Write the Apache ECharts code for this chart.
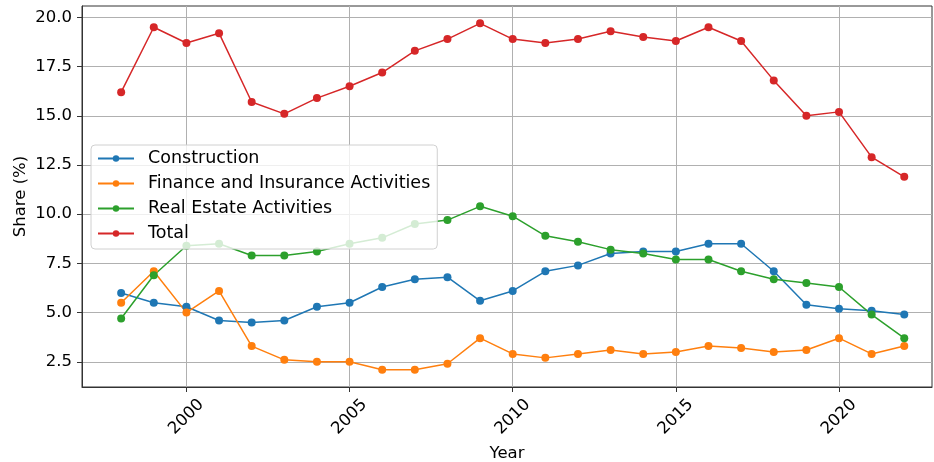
<!DOCTYPE html>
<html>
<head>
<meta charset="utf-8">
<script src="https://cdn.jsdelivr.net/npm/echarts@6/dist/echarts.min.js"></script>
<style>
html, body { margin: 0; padding: 0; background: #fff; }
#share-chart { width: 934px; height: 462px; }
</style>
</head>
<body>
<div id="share-chart"></div>
<script>
const years = [1998, 1999, 2000, 2001, 2002, 2003, 2004, 2005, 2006, 2007, 2008, 2009, 2010,
    2011, 2012, 2013, 2014, 2015, 2016, 2017, 2018, 2019, 2020, 2021, 2022]
const construction = [6.0, 5.5, 5.3, 4.6, 4.5, 4.6, 5.3, 5.5, 6.3, 6.7, 6.8, 5.6, 6.1,
    7.1, 7.4, 8.0, 8.1, 8.1, 8.5, 8.5, 7.1, 5.4, 5.2, 5.1, 4.9]
const finance = [5.5, 7.1, 5.0, 6.1, 3.3, 2.6, 2.5, 2.5, 2.1, 2.1, 2.4, 3.7, 2.9,
    2.7, 2.9, 3.1, 2.9, 3.0, 3.3, 3.2, 3.0, 3.1, 3.7, 2.9, 3.3]
const realEstate = [4.7, 6.9, 8.4, 8.5, 7.9, 7.9, 8.1, 8.5, 8.8, 9.5, 9.7, 10.4, 9.9,
    8.9, 8.6, 8.2, 8.0, 7.7, 7.7, 7.1, 6.7, 6.5, 6.3, 4.9, 3.7]
const total = [16.2, 19.5, 18.7, 19.2, 15.7, 15.1, 15.9, 16.5, 17.2, 18.3, 18.9, 19.7, 18.9,
    18.7, 18.9, 19.3, 19.0, 18.8, 19.5, 18.8, 16.8, 15.0, 15.2, 12.9, 11.9]
const xTicks = [2000, 2005, 2010, 2015, 2020]
const yTicks = [2.5, 5.0, 7.5, 10.0, 12.5, 15.0, 17.5, 20.0]

const seriesList = [
    { name: 'Construction', values: construction, color: '#1f77b4' },
    { name: 'Finance and Insurance Activities', values: finance, color: '#ff7f0e' },
    { name: 'Real Estate Activities', values: realEstate, color: '#2ca02c' },
    { name: 'Total', values: total, color: '#d62728' }
]

const font = 'DejaVu Sans'
let chart = echarts.init(document.getElementById('share-chart'))

let option = {
    animation: false,
    textStyle: { fontFamily: font },
    grid: {
        left: 82, right: 2, top: 6, bottom: 75,
        outerBoundsMode: 'none',
        containLabel: false,
        show: true, borderColor: '#333', borderWidth: 1
    },
    legend: {
        orient: 'vertical',
        left: 91,
        top: 145,
        padding: [3, 7, 5, 6],
        itemWidth: 36,
        itemHeight: 8,
        itemGap: 4,
        backgroundColor: 'rgba(255,255,255,0.8)',
        borderColor: '#d0d0d0',
        borderWidth: 1,
        borderRadius: 4,
        textStyle: { fontFamily: font, fontSize: 17.5, color: '#000', lineHeight: 21, padding: [0, 0, 0, 9] },
        data: seriesList.map(s => s.name)
    },
    xAxis: {
        type: 'value',
        min: 1996.8,
        max: 2022.85,
        name: 'Year',
        nameLocation: 'middle',
        nameGap: 53,
        nameTextStyle: { fontFamily: font, fontSize: 16.5, color: '#000' },
        axisLine: { show: true, lineStyle: { color: '#333', width: 1 } },
        axisTick: { show: true, length: 5, lineStyle: { color: '#333' }, customValues: xTicks },
        axisLabel: {
            customValues: xTicks,
            rotate: 45,
            align: 'center',
            verticalAlign: 'middle',
            margin: 30,
            fontFamily: font, fontSize: 16.5, color: '#000',
            formatter: v => String(v)
        },
        splitLine: { show: true, lineStyle: { color: '#b0b0b0', width: 1 } }
    },
    yAxis: {
        type: 'value',
        min: 1.22,
        max: 20.58,
        name: 'Share (%)',
        nameLocation: 'middle',
        nameGap: 53,
        nameRotate: 90,
        nameMoveOverlap: false,
        nameTextStyle: { fontFamily: font, fontSize: 16.5, color: '#000' },
        axisLine: { show: true, lineStyle: { color: '#333', width: 1 } },
        axisTick: { show: true, length: 5, lineStyle: { color: '#333' }, customValues: yTicks },
        axisLabel: {
            customValues: yTicks,
            margin: 10,
            fontFamily: font, fontSize: 16.5, color: '#000',
            formatter: v => v.toFixed(1)
        },
        splitLine: { show: true, lineStyle: { color: '#b0b0b0', width: 1 } }
    },
    series: seriesList.map(s => ({
        name: s.name,
        type: 'line',
        data: years.map((y, i) => [y, s.values[i]]),
        symbol: 'circle',
        symbolSize: 8,
        color: s.color,
        lineStyle: { width: 1.5, color: s.color },
        itemStyle: { color: s.color }
    }))
}
chart.setOption(option)

window.addEventListener('resize', () => {
    chart.resize()
})
</script>
</body>
</html>
